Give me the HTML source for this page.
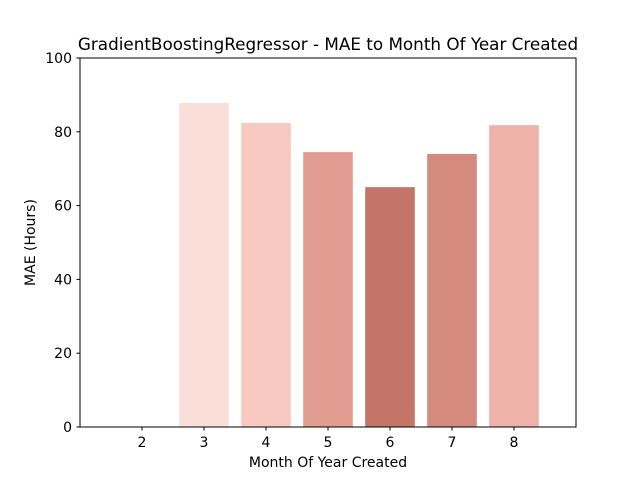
<!DOCTYPE html>
<html><head><meta charset="utf-8"><style>body{margin:0;background:#fff}svg{font-family:"DejaVu Sans","Liberation Sans",sans-serif}</style></head>
<body>
<svg id="chart" width="640" height="480">
<text x="328" y="50" font-size="16.8" text-anchor="middle">GradientBoostingRegressor - MAE to Month Of Year Created</text>
<g id="bars"></g><g id="ticks"></g>
<rect x="80" y="58" width="496" height="369" fill="none" stroke="#000" stroke-width="1"/>
<text x="328" y="467" font-size="14" text-anchor="middle">Month Of Year Created</text>
<text transform="translate(35,242.5) rotate(-90)" font-size="14" text-anchor="middle">MAE (Hours)</text>
</svg>
<script>
const categories=[2,3,4,5,6,7,8];
const values=[0,87.8,82.4,74.5,65.0,74.0,81.8];
const colors=["#fadfd9","#fadfd9","#f7c9c1","#e19d90","#c57468","#d48a7c","#efb2a8"];
const yTicks=[0,20,40,60,80,100];
const ns="http://www.w3.org/2000/svg";
const X=v=>80+(v-1)*62, Y=v=>427-v*3.69;
const bars=document.getElementById('bars'), ticks=document.getElementById('ticks');
categories.forEach((c,i)=>{
 const r=document.createElementNS(ns,'rect');
 r.setAttribute('x',X(c)-24.8);r.setAttribute('width',49.6);
 r.setAttribute('y',Y(values[i]));r.setAttribute('height',Y(0)-Y(values[i]));
 r.setAttribute('fill',colors[i]);
 
 
 bars.appendChild(r);
 const l=document.createElementNS(ns,'line');
 l.setAttribute('x1',X(c));l.setAttribute('x2',X(c));l.setAttribute('y1',427);l.setAttribute('y2',430.5);l.setAttribute('stroke','#000');
 ticks.appendChild(l);
 const t=document.createElementNS(ns,'text');
 t.setAttribute('x',X(c));t.setAttribute('y',447);t.setAttribute('font-size','14');t.setAttribute('text-anchor','middle');
 t.textContent=c;
 
 
 ticks.appendChild(t);
});
yTicks.forEach(v=>{
 const l=document.createElementNS(ns,'line');
 l.setAttribute('x1',76.5);l.setAttribute('x2',80);l.setAttribute('y1',Y(v));l.setAttribute('y2',Y(v));l.setAttribute('stroke','#000');
 ticks.appendChild(l);
 const t=document.createElementNS(ns,'text');
 t.setAttribute('x',72);t.setAttribute('y',Y(v)+5);t.setAttribute('font-size','14');t.setAttribute('text-anchor','end');
 t.textContent=v;
 
 
 ticks.appendChild(t);
});
</script>
</body></html>
